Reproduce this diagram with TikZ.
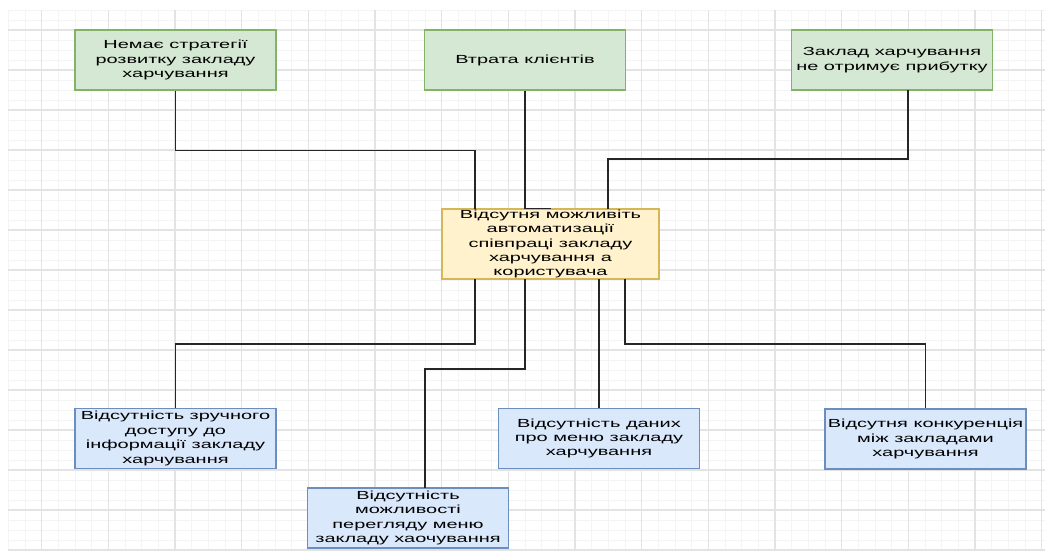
\documentclass[tikz,border=0pt]{standalone}
\usepackage{fontspec}
\newfontfamily\boxfont[FakeStretch=1.7]{Liberation Sans}
\definecolor{gridmajor}{HTML}{E3E3E3}
\definecolor{gridminor}{HTML}{F4F4F4}
\definecolor{greenfill}{HTML}{D5E8D4}
\definecolor{greenline}{HTML}{82B366}
\definecolor{yellowfill}{HTML}{FFF2CC}
\definecolor{yellowline}{HTML}{D6B656}
\definecolor{bluefill}{HTML}{DAE8FC}
\definecolor{blueline}{HTML}{6C8EBF}
\tikzset{
  box/.style={draw, line width=0.9pt, inner sep=0pt, align=center,
    minimum width=150.75pt, minimum height=45pt,
    font=\boxfont\fontsize{8.8pt}{10.8pt}\selectfont},
  greenbox/.style={box, fill=greenfill, draw=greenline},
  yellowbox/.style={box, fill=yellowfill, draw=yellowline, minimum width=162.75pt, minimum height=52.5pt},
  bluebox/.style={box, fill=bluefill, draw=blueline},
  link/.style={draw=black!85, line width=1.1pt}
}
\begin{document}
\begin{tikzpicture}[x=0.75pt, y=-0.75pt]
    \useasboundingbox (0,0) rectangle (1050,553);
    % grid
    \foreach \gx in {0,...,62} \draw[gridminor, line width=0.6pt] (8.33+\gx*16.667,10) -- (8.33+\gx*16.667,550);
    \foreach \gy in {0,...,54} \draw[gridminor, line width=0.6pt] (8.33,10+\gy*10) -- (1045,10+\gy*10);
    \foreach \gx in {0,...,15} \draw[gridmajor, line width=0.8pt] (41.67+\gx*66.667,10) -- (41.67+\gx*66.667,550);
    \foreach \gy in {0,...,13} \draw[gridmajor, line width=0.8pt] (8.33,30+\gy*40) -- (1045,30+\gy*40);

    % causes
    \node[greenbox] (strat) at (175.5,60) {Немає стратегії\\розвитку закладу\\харчування};
    \node[greenbox] (loss) at (525,60) {Втрата клієнтів};
    \node[greenbox] (profit) at (892,60) {Заклад харчування\\не отримує прибутку};

    % problem
    \node[yellowbox] (core) at (550.5,244) {Відсутня можливіть\\автоматизації\\співпраці закладу\\харчування а\\користувача};

    % effects
    \node[bluebox] (access) at (175.5,438.5) {Відсутність зручного\\доступу до\\інформації закладу\\харчування};
    \node[bluebox] (view) at (408,518) {Відсутність\\можливості\\перегляду меню\\закладу хаочування};
    \node[bluebox] (menu) at (599,438.5) {Відсутність даних\\про меню закладу\\харчування};
    \node[bluebox] (compet) at (925.5,439) {Відсутня конкуренція\\між закладами\\харчування};

    \coordinate (profitout) at (908,90);
    \coordinate (in1) at (475,209);
    \coordinate (in3) at (608,209);
    \coordinate (out1) at (475,279);
    \coordinate (out2) at (525,279);
    \coordinate (out3) at (599,279);
    \coordinate (out4) at (625,279);
    \coordinate (viewin) at (425,488);

    \draw[link] (strat.south) -- ++(0,60) -| (in1);
    \draw[link] (loss.south) |- (core.north);
    \draw[link] (profitout) -- ++(0,69) -| (in3);
    \draw[link] (out1) -- ++(0,65) -| (access.north);
    \draw[link] (out2) -- ++(0,90) -| (viewin);
    \draw[link] (out3) -- (menu.north);
    \draw[link] (out4) -- ++(0,65) -| (compet.north);
\end{tikzpicture}
\end{document}
